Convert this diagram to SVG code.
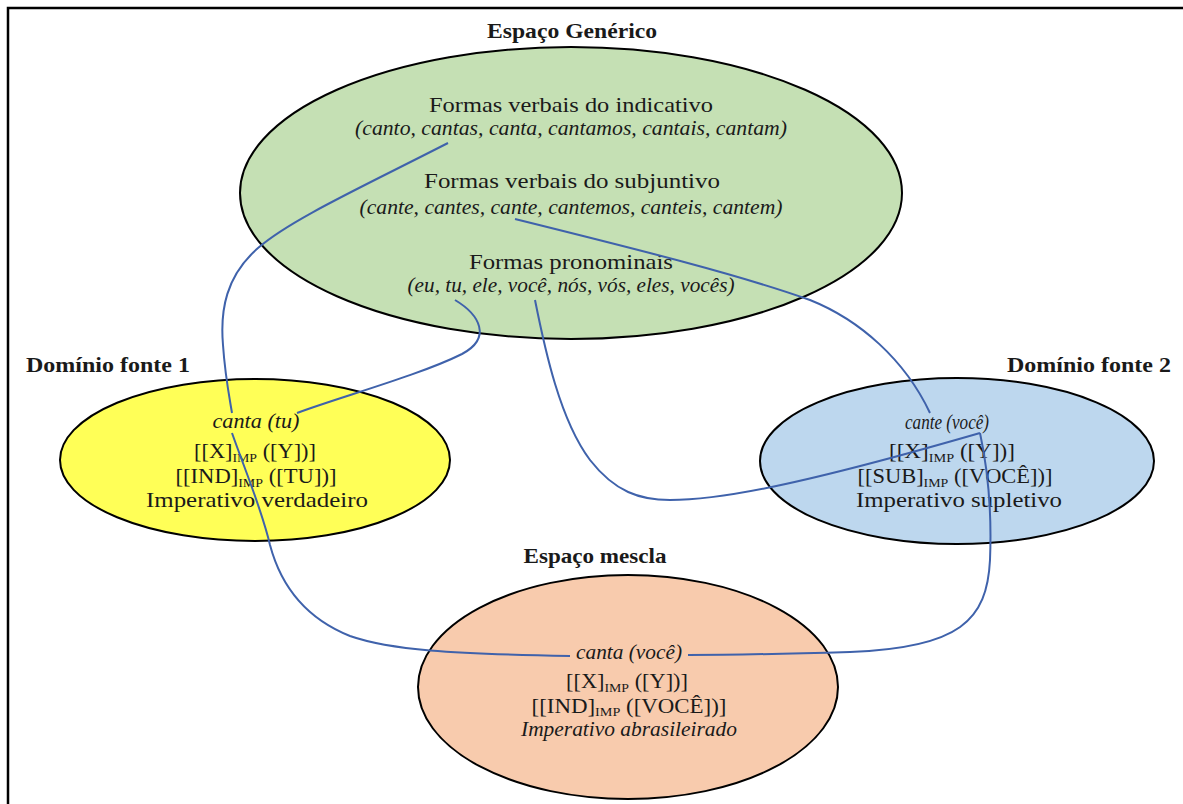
<svg xmlns="http://www.w3.org/2000/svg" width="1183" height="804" viewBox="0 0 1183 804">
<style>
.t{font-family:"Liberation Serif",serif;font-size:21px;fill:#1a1a1a;text-anchor:middle}
.i{font-style:italic;font-size:20px}
.b{font-weight:bold;font-size:21px}
.s{font-size:13px}
.e{stroke:#000;stroke-width:2}
.c{fill:none;stroke:#3f62ab;stroke-width:2}
</style>
<rect width="1183" height="804" fill="#fff"/>
<path d="M8,804 L8,8 L1183,8" fill="none" stroke="#000" stroke-width="2.5"/>

<g id="generic">
<text class="t b" x="572" y="38" textLength="170" lengthAdjust="spacingAndGlyphs">Espaço Genérico</text>
<ellipse class="e" cx="571" cy="193" rx="331" ry="146" fill="#c5e0b4"/>
<text class="t" x="571" y="112" font-size="22" textLength="284" lengthAdjust="spacingAndGlyphs">Formas verbais do indicativo</text>
<text class="t i" x="571" y="135" textLength="432" lengthAdjust="spacingAndGlyphs">(canto, cantas, canta, cantamos, cantais, cantam)</text>
<text class="t" x="572" y="188" font-size="22" textLength="296" lengthAdjust="spacingAndGlyphs">Formas  verbais do subjuntivo</text>
<text class="t i" x="571" y="214" textLength="423" lengthAdjust="spacingAndGlyphs">(cante, cantes, cante, cantemos, canteis, cantem)</text>
<text class="t" x="571" y="269" font-size="22" textLength="204" lengthAdjust="spacingAndGlyphs">Formas pronominais</text>
<text class="t i" x="571" y="292" textLength="327" lengthAdjust="spacingAndGlyphs">(eu, tu, ele, você, nós, vós, eles, vocês)</text>
</g>

<g id="source1">
<text class="t b" x="108" y="372" textLength="164" lengthAdjust="spacingAndGlyphs">Domínio fonte 1</text>
<ellipse class="e" cx="255" cy="460" rx="195" ry="81" fill="#ffff57"/>
<text class="t i" x="256" y="428" textLength="87" lengthAdjust="spacingAndGlyphs">canta (tu)</text>
<text class="t" x="255" y="458" textLength="122" lengthAdjust="spacingAndGlyphs">[[X]<tspan class="s" dy="4">IMP</tspan><tspan dy="-4"> ([Y])]</tspan></text>
<text class="t" x="256" y="483" textLength="161" lengthAdjust="spacingAndGlyphs">[[IND]<tspan class="s" dy="4">IMP</tspan><tspan dy="-4"> ([TU])]</tspan></text>
<text class="t" x="257" y="507" textLength="222" lengthAdjust="spacingAndGlyphs">Imperativo verdadeiro</text>
</g>

<g id="source2">
<text class="t b" x="1089" y="372" textLength="164" lengthAdjust="spacingAndGlyphs">Domínio fonte 2</text>
<ellipse class="e" cx="957" cy="461" rx="197" ry="83" fill="#bdd7ee"/>
<text class="t i" x="947" y="429" textLength="84" lengthAdjust="spacingAndGlyphs">cante (você)</text>
<text class="t" x="952" y="458" textLength="126" lengthAdjust="spacingAndGlyphs">[[X]<tspan class="s" dy="4">IMP</tspan><tspan dy="-4"> ([Y])]</tspan></text>
<text class="t" x="955" y="483" textLength="195" lengthAdjust="spacingAndGlyphs">[[SUB]<tspan class="s" dy="4">IMP</tspan><tspan dy="-4"> ([VOCÊ])]</tspan></text>
<text class="t" x="959" y="507" textLength="206" lengthAdjust="spacingAndGlyphs">Imperativo supletivo</text>
</g>

<g id="blend">
<text class="t b" x="595" y="563" textLength="143" lengthAdjust="spacingAndGlyphs">Espaço mescla</text>
<ellipse class="e" cx="628" cy="687" rx="210" ry="112" fill="#f8cbad"/>
<text class="t i" x="629" y="659" textLength="106" lengthAdjust="spacingAndGlyphs">canta (você)</text>
<text class="t" x="627" y="688" textLength="122" lengthAdjust="spacingAndGlyphs">[[X]<tspan class="s" dy="4">IMP</tspan><tspan dy="-4"> ([Y])]</tspan></text>
<text class="t" x="629" y="713" textLength="195" lengthAdjust="spacingAndGlyphs">[[IND]<tspan class="s" dy="3">IMP</tspan><tspan dy="-3"> ([VOCÊ])]</tspan></text>
<text class="t i" x="629" y="736" font-size="19" textLength="216" lengthAdjust="spacingAndGlyphs">Imperativo abrasileirado</text>
</g>

<g id="connectors">
<path class="c" d="M448,143 C360,188 290,220 258,248 C226,276 220,310 223,345 C225,375 229,395 232,413"/>
<path class="c" d="M232,433 C245,470 262,510 270,545 C282,590 310,620 350,636 C390,650 450,654 570,656"/>
<path class="c" d="M455,300 C480,315 492,338 462,354 C420,375 340,397 297,413"/>
<path class="c" d="M535,300 C545,350 560,420 590,460 C615,492 640,500 670,500 C720,500 800,485 980,433"/>
<path class="c" d="M515,219 C640,250 740,275 810,300 C860,320 905,360 930,413"/>
<path class="c" d="M980,433 C988,470 992,510 990,560 C987,620 960,648 850,652 C780,654 720,655 688,655"/>
</g>
</svg>
